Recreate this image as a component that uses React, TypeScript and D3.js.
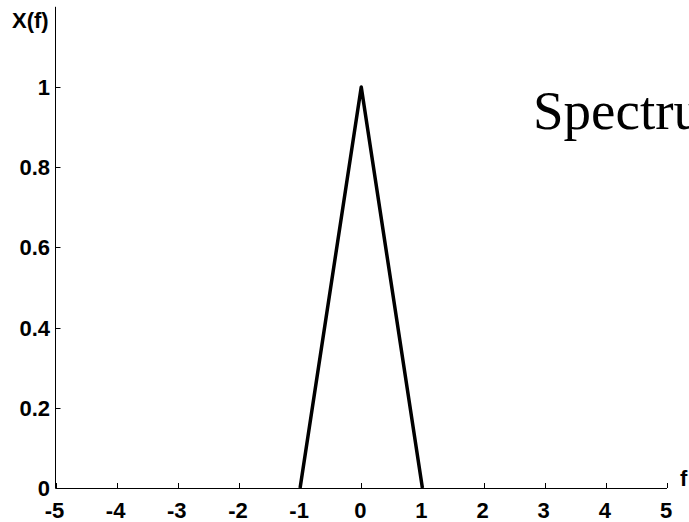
import React from "react";
import * as d3 from "d3";

const fValues = [-1, 0, 1];
const xfValues = [0, 1, 0];
const xTicks = [-5, -4, -3, -2, -1, 0, 1, 2, 3, 4, 5];
const yTicks = [0, 0.2, 0.4, 0.6, 0.8, 1];
const xDomain = [-5, 5];
const yDomain = [0, 1.2];

export default function App() {
  const W = 689, H = 522;
  const x = d3.scaleLinear().domain(xDomain).range([55.5, 667]);
  const y = d3.scaleLinear().domain(yDomain).range([488, 6.8]);
  const pts = fValues.map((f, i) => [f, xfValues[i]] as [number, number]);
  const line = d3.line<[number, number]>().x(d => x(d[0])).y(d => y(d[1]));
  const font = "'Liberation Sans', Arial, sans-serif";
  return (
    <div style={{ position: "absolute", left: 0, top: 0 }}>
      <svg width={W} height={H} style={{ display: "block", background: "#fff" }}>
        <rect width={W} height={H} fill="#fff" />
        <line x1={x(-5)} x2={x(-5)} y1={y(0)} y2={y(1.2)} stroke="#000" strokeWidth={1} />
        <line x1={x(-5)} x2={x(5)} y1={y(0) + 0.5} y2={y(0) + 0.5} stroke="#000" strokeWidth={1} />
        {xTicks.map(t => (
          <g key={"x" + t}>
            <line x1={Math.round(x(t)) + 0.5} x2={Math.round(x(t)) + 0.5} y1={y(0)} y2={y(0) - 5} stroke="#000" strokeWidth={1} />
            <text x={x(t) - 1} y={518} textAnchor="middle" fontFamily={font} fontWeight="bold" fontSize={22}>{t}</text>
          </g>
        ))}
        {yTicks.map(t => (
          <g key={"y" + t}>
            <line x1={x(-5)} x2={x(-5) + 5} y1={Math.round(y(t)) + 0.5} y2={Math.round(y(t)) + 0.5} stroke="#000" strokeWidth={1} />
            <text x={50} y={y(t) + 8} textAnchor="end" fontFamily={font} fontWeight="bold" fontSize={22}>{t}</text>
          </g>
        ))}
        <path d={line(pts) || ""} fill="none" stroke="#000" strokeWidth={3.5} strokeLinejoin="round" />
        <text x={12} y={28} fontFamily={font} fontWeight="bold" fontSize={22}>X(f)</text>
        <text x={680} y={486} fontFamily={font} fontWeight="bold" fontSize={22}>f</text>
        <text x={533} y={129} fontFamily="'Liberation Serif', 'Times New Roman', serif" fontSize={55}>Spectrum</text>
      </svg>
    </div>
  );
}
